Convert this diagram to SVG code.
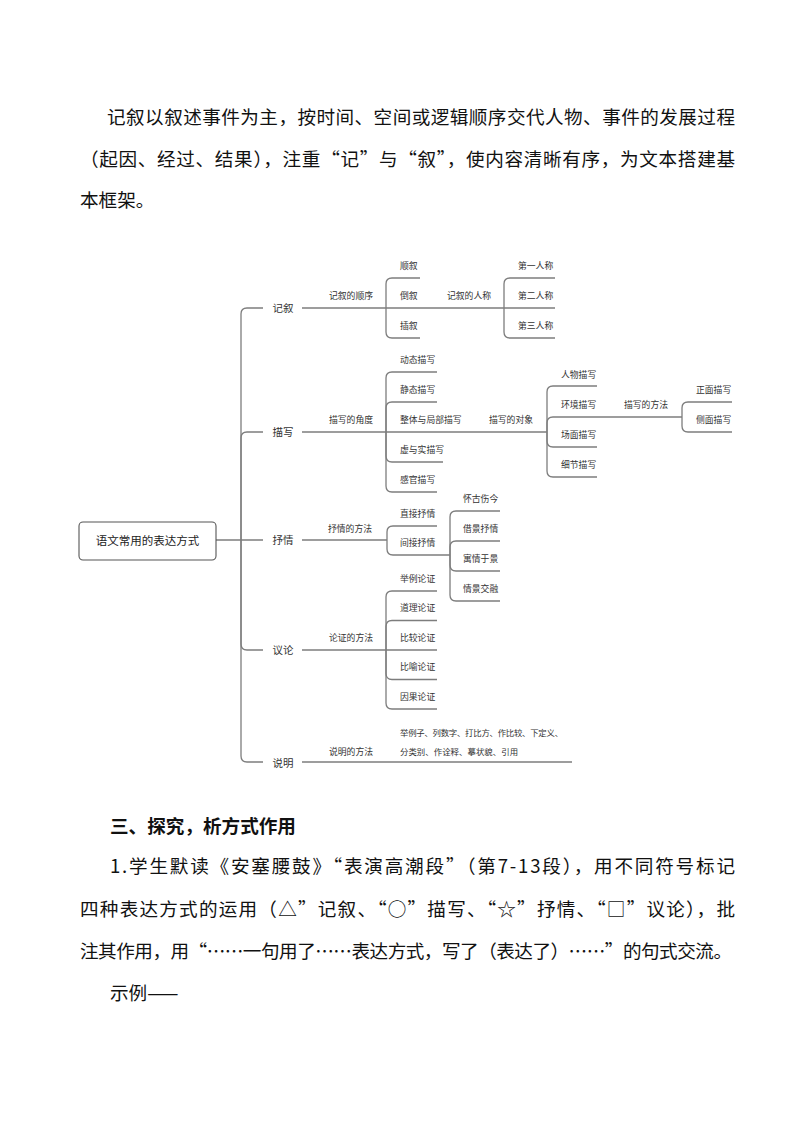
<svg xmlns="http://www.w3.org/2000/svg" width="794" height="1123" viewBox="0 0 794 1123">
<style>
.bg{fill:#ffffff}
.body{font-family:"Noto Sans CJK SC","Noto Sans",sans-serif;font-size:18.6px;fill:#111}
.head{font-family:"Noto Sans CJK SC","Noto Sans",sans-serif;font-size:18.6px;font-weight:bold;fill:#111}
.ln{fill:none;stroke:#7d7d7d;stroke-width:1.3}
.box{fill:#ffffff;stroke:#555;stroke-width:1.1}
.t0{font-family:"Noto Sans CJK SC","Noto Sans",sans-serif;font-size:11.5px;fill:#222;text-anchor:middle}
.t1{font-family:"Noto Sans CJK SC","Noto Sans",sans-serif;font-size:10.5px;fill:#333;text-anchor:middle}
.t2{font-family:"Noto Sans CJK SC","Noto Sans",sans-serif;font-size:8.8px;fill:#333}
.t3{font-family:"Noto Sans CJK SC","Noto Sans",sans-serif;font-size:8.4px;fill:#333}
</style>
<rect class="bg" x="0" y="0" width="794" height="1123"/>

<g id="para1">
<text class="body" x="107" y="124" textLength="628" lengthAdjust="spacing">记叙以叙述事件为主，按时间、空间或逻辑顺序交代人物、事件的发展过程</text>
<text class="body" x="80" y="166" textLength="655" lengthAdjust="spacing">（起因、经过、结果），注重“记”与“叙”，使内容清晰有序，为文本搭建基</text>
<text class="body" x="80" y="207">本框架。</text>
</g>

<g id="connectors">
<path class="ln" d="M216,540 H263"/>
<path class="ln" d="M241,540 V314 Q241,308 247,308 H263"/>
<path class="ln" d="M241,540 V438 Q241,432 247,432 H263"/>
<path class="ln" d="M241,540 V644 Q241,650 247,650 H263"/>
<path class="ln" d="M241,540 V756 Q241,762 247,762 H263"/>
<!-- 记叙 -->
<path class="ln" d="M302,308 H555"/>
<path class="ln" d="M386,308 V284 Q386,278 392,278 H420"/>
<path class="ln" d="M386,308 V332 Q386,338 392,338 H420"/>
<path class="ln" d="M504,308 V284 Q504,278 510,278 H555"/>
<path class="ln" d="M504,308 V332 Q504,338 510,338 H555"/>
<!-- 描写 -->
<path class="ln" d="M302,432 H547"/>
<path class="ln" d="M386,432 V378 Q386,372 392,372 H437"/>
<path class="ln" d="M386,432 V408 Q386,402 392,402 H437"/>
<path class="ln" d="M386,432 V456 Q386,462 392,462 H443"/>
<path class="ln" d="M386,432 V486 Q386,492 392,492 H437"/>
<path class="ln" d="M547,432 V392 Q547,386 553,386 H597"/>
<path class="ln" d="M547,432 V423 Q547,417 553,417 H682"/>
<path class="ln" d="M547,432 V441 Q547,447 553,447 H597"/>
<path class="ln" d="M547,432 V471 Q547,477 553,477 H597"/>
<path class="ln" d="M682,417 V408 Q682,402 688,402 H732"/>
<path class="ln" d="M682,417 V426 Q682,432 688,432 H732"/>
<!-- 抒情 -->
<path class="ln" d="M302,540 H387"/>
<path class="ln" d="M387,540 V532 Q387,526 393,526 H437"/>
<path class="ln" d="M387,540 V549 Q387,555 393,555 H450"/>
<path class="ln" d="M450,555 V517 Q450,511 456,511 H500"/>
<path class="ln" d="M450,555 V547 Q450,541 456,541 H500"/>
<path class="ln" d="M450,555 V565 Q450,571 456,571 H500"/>
<path class="ln" d="M450,555 V595 Q450,601 456,601 H500"/>
<!-- 议论 -->
<path class="ln" d="M302,650 H437"/>
<path class="ln" d="M386,650 V597 Q386,591 392,591 H437"/>
<path class="ln" d="M386,650 V626.5 Q386,620.5 392,620.5 H437"/>
<path class="ln" d="M386,650 V673.5 Q386,679.5 392,679.5 H437"/>
<path class="ln" d="M386,650 V703 Q386,709 392,709 H437"/>
<!-- 说明 -->
<path class="ln" d="M302,762 H572"/>
</g>

<g id="root">
<rect class="box" x="79" y="522" width="137" height="38" rx="4"/>
<text class="t0" x="147.5" y="544.5">语文常用的表达方式</text>
</g>

<g id="jixu">
<text class="t1" x="283" y="312">记叙</text>
<text class="t2" x="329" y="299">记叙的顺序</text>
<text class="t2" x="400" y="269">顺叙</text>
<text class="t2" x="400" y="299">倒叙</text>
<text class="t2" x="400" y="329">插叙</text>
<text class="t2" x="447" y="299">记叙的人称</text>
<text class="t2" x="518" y="269">第一人称</text>
<text class="t2" x="518" y="299">第二人称</text>
<text class="t2" x="518" y="329">第三人称</text>
</g>

<g id="miaoxie">
<text class="t1" x="283" y="436">描写</text>
<text class="t2" x="329" y="423">描写的角度</text>
<text class="t2" x="400" y="363">动态描写</text>
<text class="t2" x="400" y="393">静态描写</text>
<text class="t2" x="400" y="423">整体与局部描写</text>
<text class="t2" x="400" y="453">虚与实描写</text>
<text class="t2" x="400" y="483">感官描写</text>
<text class="t2" x="489" y="423">描写的对象</text>
<text class="t2" x="561" y="378">人物描写</text>
<text class="t2" x="561" y="408">环境描写</text>
<text class="t2" x="561" y="438">场面描写</text>
<text class="t2" x="561" y="468">细节描写</text>
<text class="t2" x="624" y="408">描写的方法</text>
<text class="t2" x="696" y="393">正面描写</text>
<text class="t2" x="696" y="423">侧面描写</text>
</g>

<g id="shuqing">
<text class="t1" x="283" y="544">抒情</text>
<text class="t2" x="328" y="532">抒情的方法</text>
<text class="t2" x="400" y="517">直接抒情</text>
<text class="t2" x="400" y="546">间接抒情</text>
<text class="t2" x="463" y="502">怀古伤今</text>
<text class="t2" x="463" y="532">借景抒情</text>
<text class="t2" x="463" y="562">寓情于景</text>
<text class="t2" x="463" y="592">情景交融</text>
</g>

<g id="yilun">
<text class="t1" x="283" y="654">议论</text>
<text class="t2" x="329" y="641">论证的方法</text>
<text class="t2" x="400" y="582">举例论证</text>
<text class="t2" x="400" y="611">道理论证</text>
<text class="t2" x="400" y="641">比较论证</text>
<text class="t2" x="400" y="670">比喻论证</text>
<text class="t2" x="400" y="700">因果论证</text>
</g>

<g id="shuoming">
<text class="t1" x="283" y="767">说明</text>
<text class="t2" x="329" y="755">说明的方法</text>
<text class="t3" x="400" y="736" textLength="163" lengthAdjust="spacing">举例子、列数字、打比方、作比较、下定义、</text>
<text class="t3" x="400" y="755" textLength="118" lengthAdjust="spacing">分类别、作诠释、摹状貌、引用</text>
</g>

<g id="section3">
<text class="head" x="110" y="833">三、探究，析方式作用</text>
<text class="body" x="110" y="873" textLength="625" lengthAdjust="spacing">1.学生默读《安塞腰鼓》“表演高潮段”（第7-13段），用不同符号标记</text>
<text class="body" x="80" y="916" textLength="655" lengthAdjust="spacing">四种表达方式的运用（△”记叙、“○”描写、“☆”抒情、“□”议论），批</text>
<text class="body" x="80" y="958" textLength="652" lengthAdjust="spacing">注其作用，用“……一句用了……表达方式，写了（表达了）……”的句式交流。</text>
<text class="body" x="110" y="1000">示例——</text>
</g>
</svg>
